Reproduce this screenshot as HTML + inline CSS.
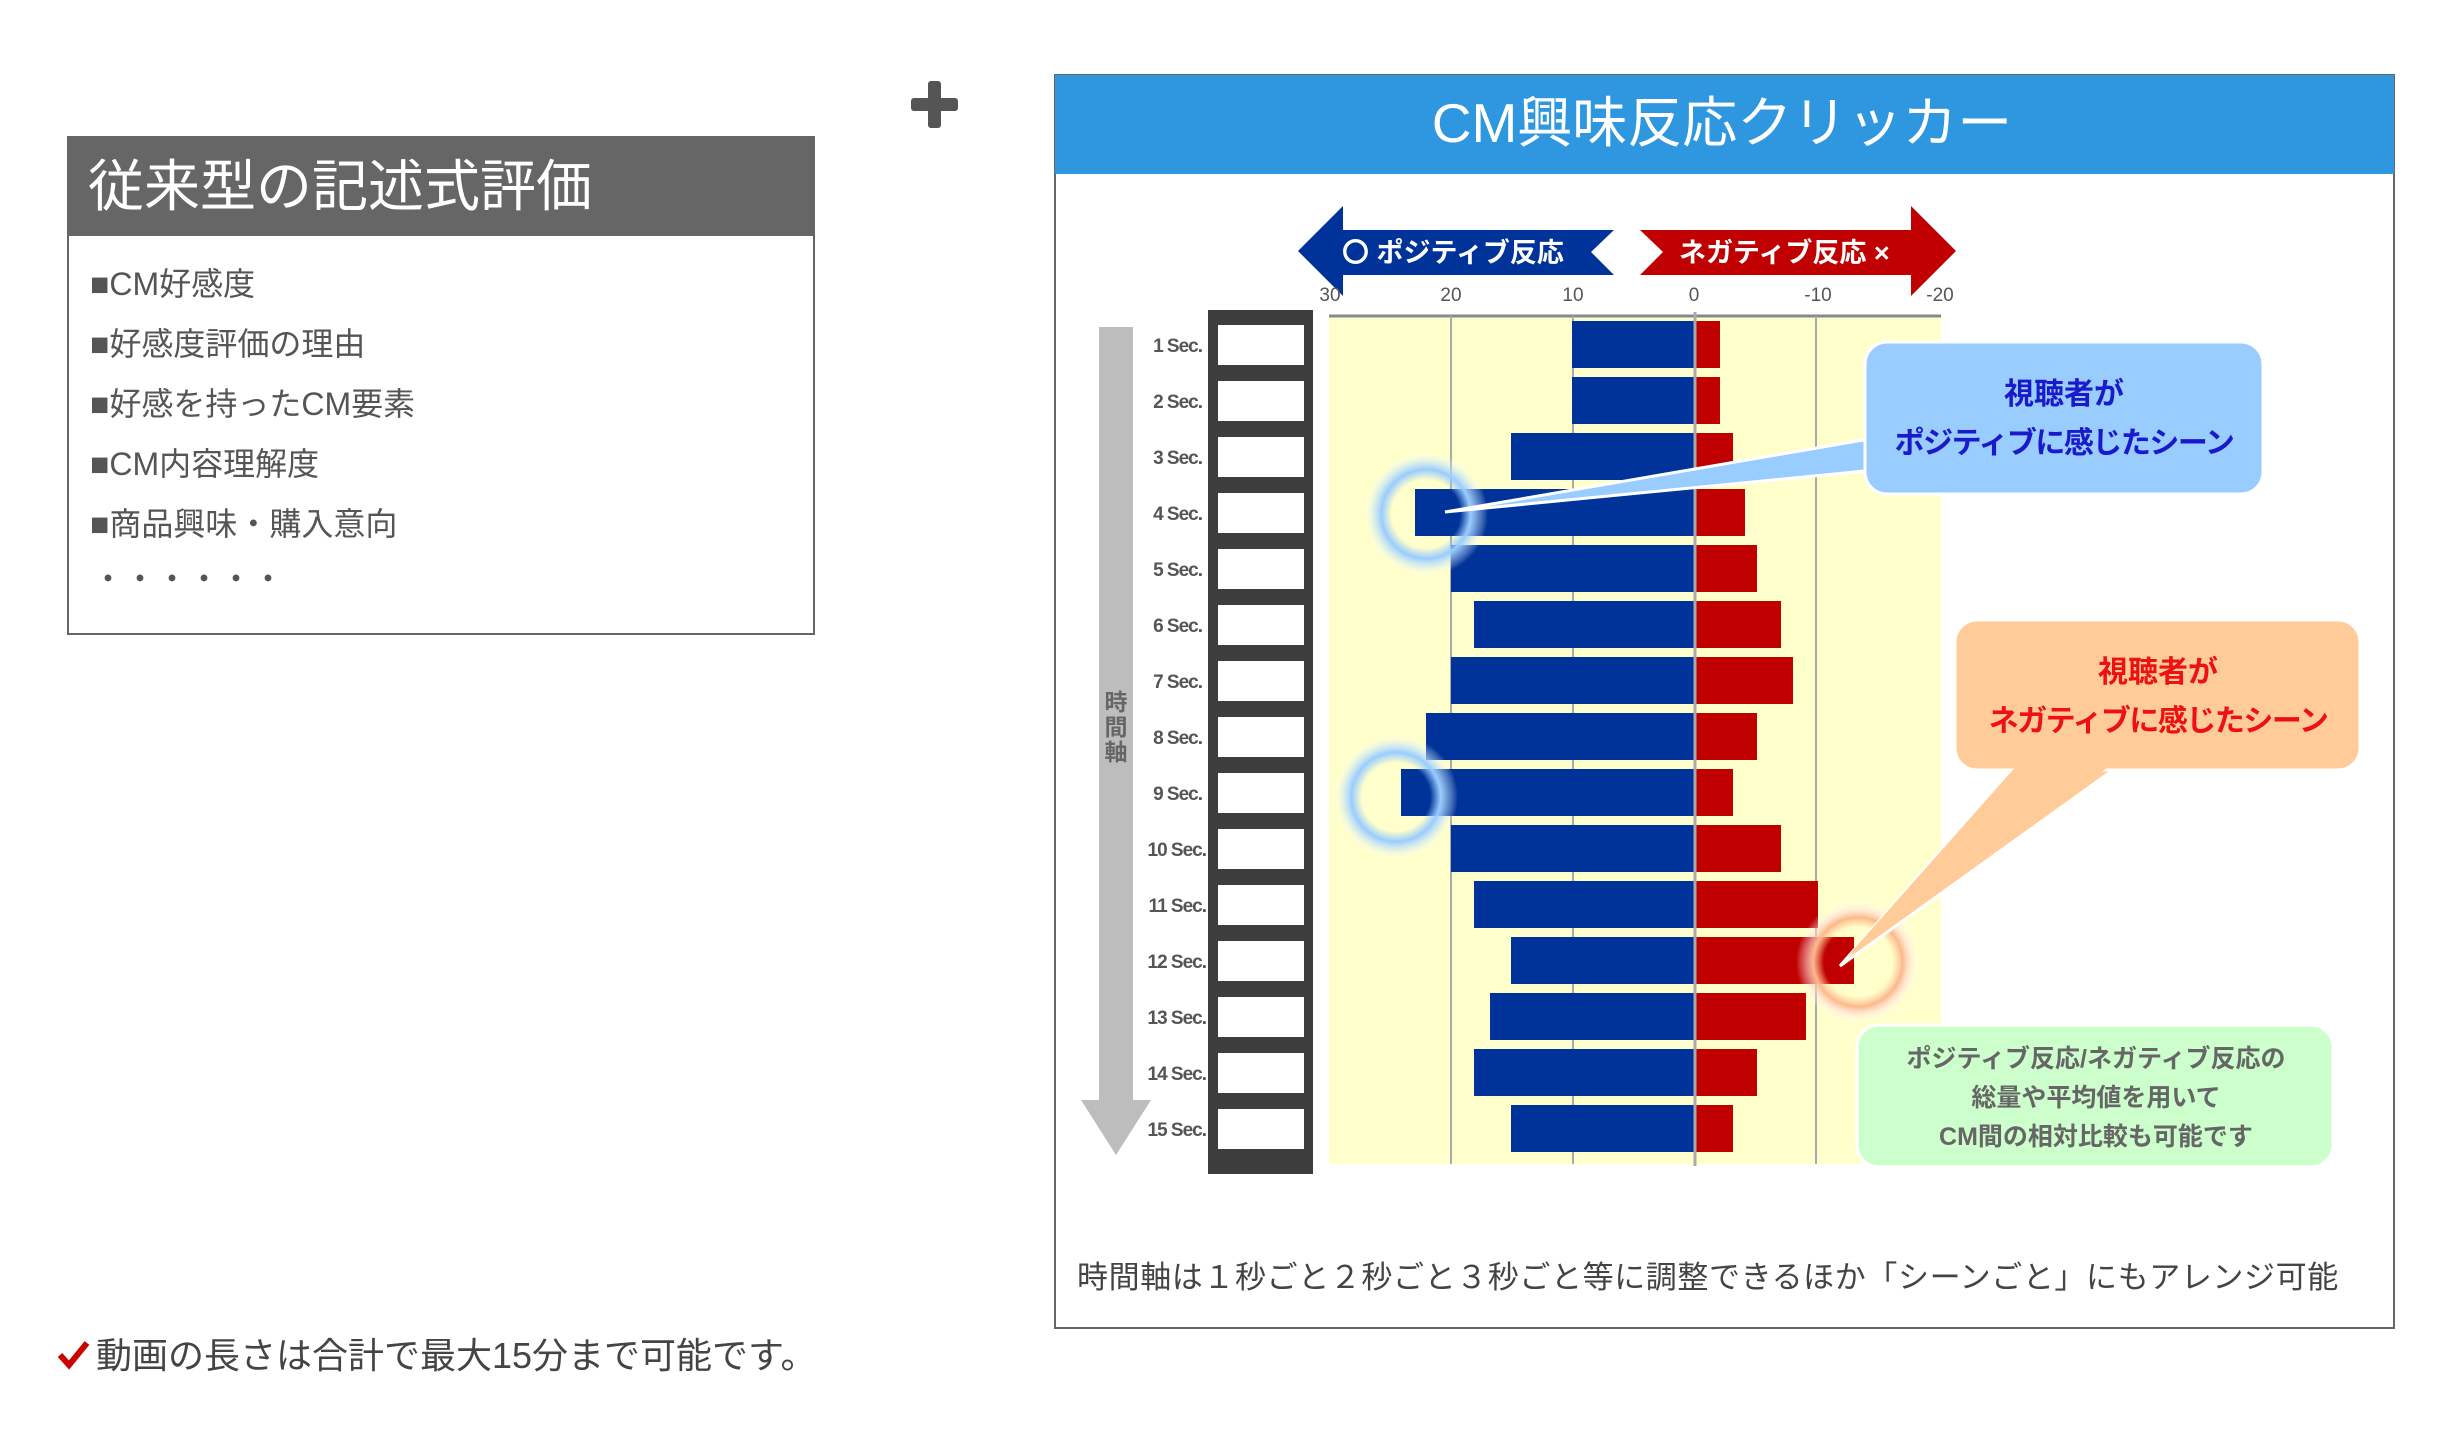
<!DOCTYPE html>
<html><head><meta charset="utf-8"><style>
html,body{margin:0;padding:0;background:#fff;}
svg{display:block;}
text{font-family:"Liberation Sans","Noto Sans CJK JP",sans-serif;}
</style></head><body>
<svg width="2452" height="1450" viewBox="0 0 2452 1450" xmlns="http://www.w3.org/2000/svg">
<defs>
<radialGradient id="gb"><stop offset="0.55" stop-color="#9cf" stop-opacity="0.0"/><stop offset="0.72" stop-color="#9cf" stop-opacity="1"/><stop offset="0.85" stop-color="#bde0ff" stop-opacity="0.5"/><stop offset="1" stop-color="#fff" stop-opacity="0"/></radialGradient>
<radialGradient id="go"><stop offset="0.55" stop-color="#fc9" stop-opacity="0.0"/><stop offset="0.72" stop-color="#fdb88a" stop-opacity="1"/><stop offset="0.85" stop-color="#fdd" stop-opacity="0.5"/><stop offset="1" stop-color="#fff" stop-opacity="0"/></radialGradient>
</defs>

<rect x="68" y="137" width="746" height="497" fill="#fff" stroke="#666" stroke-width="2"/>
<rect x="68" y="137" width="746" height="99" fill="#666"/>
<text x="88" y="206" font-size="56" fill="#fff">従来型の記述式評価</text>
<g font-size="32" fill="#555">
<text x="90" y="295">■CM好感度</text>
<text x="90" y="355">■好感度評価の理由</text>
<text x="90" y="415">■好感を持ったCM要素</text>
<text x="90" y="475">■CM内容理解度</text>
<text x="90" y="535">■商品興味・購入意向</text>
<text x="92" y="590">・・・・・・</text>
</g>

<rect x="911" y="98" width="47" height="13" rx="3" fill="#555"/>
<rect x="928" y="81" width="13" height="47" rx="3" fill="#555"/>

<path d="M60 1355 l9 10 l18 -22" stroke="#c00" stroke-width="6" fill="none"/>
<text x="96" y="1368" font-size="36" fill="#444">動画の長さは合計で最大15分まで可能です。</text>

<rect x="1055" y="75" width="1339" height="1253" fill="#fff" stroke="#666" stroke-width="2"/>
<rect x="1055" y="75" width="1339" height="99" fill="#2f96e0"/>
<text x="1722" y="142" font-size="55" fill="#fff" text-anchor="middle">CM興味反応クリッカー</text>
<text x="1077" y="1288" font-size="31" fill="#444" letter-spacing="0.6">時間軸は１秒ごと２秒ごと３秒ごと等に調整できるほか「シーンごと」にもアレンジ可能</text>

<polygon points="1298,251 1343,206 1343,230 1614,230 1591,252 1614,275 1343,275 1343,296" fill="#003399"/>
<polygon points="1956,251 1911,206 1911,230 1640,230 1663,252 1640,275 1911,275 1911,296" fill="#c00000"/>
<text x="1342" y="262" font-size="27" fill="#fff" font-weight="bold">〇 ポジティブ反応</text>
<text x="1679" y="262" font-size="27" fill="#fff" font-weight="bold">ネガティブ反応 ×</text>

<g font-size="19" fill="#555" text-anchor="middle">
<text x="1330" y="301">30</text><text x="1451" y="301">20</text><text x="1573" y="301">10</text><text x="1694" y="301">0</text><text x="1818" y="301">-10</text><text x="1940" y="301">-20</text>
</g>

<rect x="1329" y="318" width="612" height="846" fill="#ffffcc"/>
<line x1="1329" y1="316" x2="1941" y2="316" stroke="#888" stroke-width="3"/>
<g stroke="#aaa" stroke-width="2">
<line x1="1451" y1="316" x2="1451" y2="1164"/><line x1="1573" y1="316" x2="1573" y2="1164"/><line x1="1816" y1="316" x2="1816" y2="1164"/>
</g>

<g>
<rect x="1572" y="321" width="122" height="47" fill="#003399"/><rect x="1696" y="321" width="24" height="47" fill="#c00000"/>
<rect x="1572" y="377" width="122" height="47" fill="#003399"/><rect x="1696" y="377" width="24" height="47" fill="#c00000"/>
<rect x="1511" y="433" width="183" height="47" fill="#003399"/><rect x="1696" y="433" width="37" height="47" fill="#c00000"/>
<rect x="1415" y="489" width="279" height="47" fill="#003399"/><rect x="1696" y="489" width="49" height="47" fill="#c00000"/>
<rect x="1451" y="545" width="243" height="47" fill="#003399"/><rect x="1696" y="545" width="61" height="47" fill="#c00000"/>
<rect x="1474" y="601" width="220" height="47" fill="#003399"/><rect x="1696" y="601" width="85" height="47" fill="#c00000"/>
<rect x="1451" y="657" width="243" height="47" fill="#003399"/><rect x="1696" y="657" width="97" height="47" fill="#c00000"/>
<rect x="1426" y="713" width="268" height="47" fill="#003399"/><rect x="1696" y="713" width="61" height="47" fill="#c00000"/>
<rect x="1401" y="769" width="293" height="47" fill="#003399"/><rect x="1696" y="769" width="37" height="47" fill="#c00000"/>
<rect x="1451" y="825" width="243" height="47" fill="#003399"/><rect x="1696" y="825" width="85" height="47" fill="#c00000"/>
<rect x="1474" y="881" width="220" height="47" fill="#003399"/><rect x="1696" y="881" width="122" height="47" fill="#c00000"/>
<rect x="1511" y="937" width="183" height="47" fill="#003399"/><rect x="1696" y="937" width="158" height="47" fill="#c00000"/>
<rect x="1490" y="993" width="204" height="47" fill="#003399"/><rect x="1696" y="993" width="110" height="47" fill="#c00000"/>
<rect x="1474" y="1049" width="220" height="47" fill="#003399"/><rect x="1696" y="1049" width="61" height="47" fill="#c00000"/>
<rect x="1511" y="1105" width="183" height="47" fill="#003399"/><rect x="1696" y="1105" width="37" height="47" fill="#c00000"/>
</g>
<line x1="1695" y1="312" x2="1695" y2="1166" stroke="#aaa" stroke-width="3"/>

<rect x="1208" y="310" width="105" height="864" fill="#3d3d3d"/>
<g fill="#fff">
<rect x="1218" y="325" width="86" height="40"/><rect x="1218" y="381" width="86" height="40"/><rect x="1218" y="437" width="86" height="40"/><rect x="1218" y="493" width="86" height="40"/><rect x="1218" y="549" width="86" height="40"/><rect x="1218" y="605" width="86" height="40"/><rect x="1218" y="661" width="86" height="40"/><rect x="1218" y="717" width="86" height="40"/><rect x="1218" y="773" width="86" height="40"/><rect x="1218" y="829" width="86" height="40"/><rect x="1218" y="885" width="86" height="40"/><rect x="1218" y="941" width="86" height="40"/><rect x="1218" y="997" width="86" height="40"/><rect x="1218" y="1053" width="86" height="40"/><rect x="1218" y="1109" width="86" height="40"/>
</g>
<g font-size="19" fill="#555" font-weight="bold" text-anchor="end" letter-spacing="-1">
<text x="1202" y="352">1 Sec.</text><text x="1202" y="408">2 Sec.</text><text x="1202" y="464">3 Sec.</text><text x="1202" y="520">4 Sec.</text><text x="1202" y="576">5 Sec.</text><text x="1202" y="632">6 Sec.</text><text x="1202" y="688">7 Sec.</text><text x="1202" y="744">8 Sec.</text><text x="1202" y="800">9 Sec.</text><text x="1206" y="856">10 Sec.</text><text x="1206" y="912">11 Sec.</text><text x="1206" y="968">12 Sec.</text><text x="1206" y="1024">13 Sec.</text><text x="1206" y="1080">14 Sec.</text><text x="1206" y="1136">15 Sec.</text>
</g>

<polygon points="1099,327 1133,327 1133,1100 1151,1100 1116,1155 1081,1100 1099,1100" fill="#bdbdbd"/>
<g font-size="23" fill="#666" font-weight="bold" text-anchor="middle">
<text x="1116" y="710">時</text><text x="1116" y="735">間</text><text x="1116" y="760">軸</text>
</g>

<circle cx="1426" cy="514" r="62" fill="url(#gb)"/>
<circle cx="1396" cy="797" r="62" fill="url(#gb)"/>
<circle cx="1858" cy="962" r="62" fill="url(#go)"/>

<polygon points="1445,512 1875,438 1875,470" fill="#99ccff" stroke="#fff" stroke-width="3"/>
<rect x="1865" y="342" width="398" height="152" rx="22" fill="#99ccff" stroke="#fff" stroke-width="3"/>
<text x="2064" y="404" font-size="30" fill="#1a1acc" font-weight="bold" text-anchor="middle">視聴者が</text>
<text x="2064" y="453" font-size="30" fill="#1a1acc" font-weight="bold" text-anchor="middle" letter-spacing="-1.5">ポジティブに感じたシーン</text>

<polygon points="1840,966 2015,765 2120,765" fill="#ffcc99" stroke="#fff" stroke-width="3"/>
<rect x="1955" y="620" width="405" height="150" rx="22" fill="#ffcc99" stroke="#fff" stroke-width="3"/>
<polygon points="1846,958 2020,762 2115,762" fill="#ffcc99"/>
<text x="2158" y="682" font-size="30" fill="#ee1111" font-weight="bold" text-anchor="middle">視聴者が</text>
<text x="2158" y="731" font-size="30" fill="#ee1111" font-weight="bold" text-anchor="middle" letter-spacing="-1.5">ネガティブに感じたシーン</text>

<rect x="1857" y="1025" width="476" height="142" rx="22" fill="#ccffcc" stroke="#fff" stroke-width="3"/>
<g font-size="25" fill="#666" font-weight="bold" text-anchor="middle">
<text x="2096" y="1067">ポジティブ反応/ネガティブ反応の</text>
<text x="2096" y="1106">総量や平均値を用いて</text>
<text x="2096" y="1145">CM間の相対比較も可能です</text>
</g>
</svg>
</body></html>
